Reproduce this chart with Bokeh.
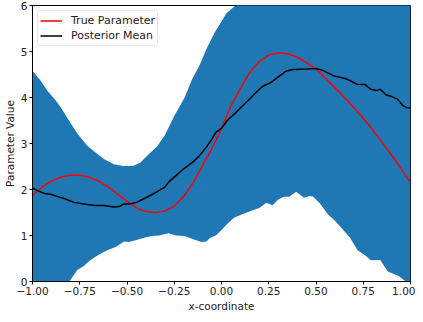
from bokeh.plotting import figure
from bokeh.models import FixedTicker, Legend, LegendItem, Range1d
from bokeh.embed import file_html
from bokeh.resources import INLINE

# ---- data ----
true_x = [-1.0, -0.95, -0.9, -0.85, -0.8, -0.75, -0.7, -0.65, -0.6, -0.55, -0.5, -0.45, -0.4,
          -0.35, -0.3, -0.25, -0.2, -0.15, -0.1, -0.05, 0.0, 0.05, 0.1, 0.15, 0.2, 0.25, 0.3,
          0.35, 0.4, 0.45, 0.5, 0.55, 0.6, 0.65, 0.7, 0.75, 0.8, 0.85, 0.9, 0.95, 1.0]
true_y = [1.87, 2.05, 2.18, 2.27, 2.31, 2.31, 2.27, 2.18, 2.06, 1.9, 1.74, 1.6, 1.52,
          1.5, 1.53, 1.64, 1.85, 2.15, 2.52, 2.9, 3.32, 3.82, 4.2, 4.55, 4.78, 4.92, 4.97,
          4.95, 4.88, 4.76, 4.62, 4.42, 4.22, 4.0, 3.78, 3.55, 3.3, 3.02, 2.75, 2.45, 2.15]

mean_x = [-1.0, -0.97, -0.94, -0.9, -0.87, -0.83, -0.78, -0.72, -0.67, -0.62, -0.57, -0.54,
          -0.52, -0.48, -0.45, -0.4, -0.35, -0.3, -0.28, -0.25, -0.2, -0.15, -0.12, -0.08,
          -0.05, -0.03, 0.0, 0.03, 0.07, 0.1, 0.14, 0.18, 0.22, 0.26, 0.3, 0.34, 0.38, 0.45,
          0.5, 0.53, 0.57, 0.6, 0.65, 0.68, 0.72, 0.76, 0.79, 0.82, 0.84, 0.87, 0.9, 0.93,
          0.96, 0.98, 1.0]
mean_y = [2.03, 1.97, 1.92, 1.89, 1.85, 1.80, 1.72, 1.68, 1.65, 1.65, 1.62, 1.63,
          1.68, 1.69, 1.72, 1.82, 1.93, 2.05, 2.16, 2.27, 2.45, 2.6, 2.72, 2.92,
          3.1, 3.24, 3.33, 3.5, 3.65, 3.77, 3.93, 4.1, 4.25, 4.32, 4.45, 4.57, 4.61, 4.62,
          4.63, 4.6, 4.52, 4.46, 4.42, 4.37, 4.28, 4.28, 4.18, 4.15, 4.18, 4.06, 4.02, 3.97,
          3.82, 3.78, 3.77]

upper_x = [-1.0, -0.96, -0.92, -0.88, -0.85, -0.8, -0.76, -0.71, -0.66, -0.62, -0.57, -0.52,
           -0.47, -0.43, -0.395, -0.34, -0.3, -0.25, -0.195, -0.155, -0.116, -0.08, -0.037,
           0.0, 0.026, 0.06, 0.08, 0.15, 0.3, 0.5, 0.75, 1.0]
upper_y = [4.58, 4.38, 4.14, 3.95, 3.78, 3.45, 3.2, 2.95, 2.78, 2.66, 2.55, 2.51,
           2.51, 2.58, 2.73, 2.94, 3.18, 3.6, 4.0, 4.4, 4.7, 5.05, 5.41,
           5.65, 5.83, 5.95, 6.02, 6.3, 6.6, 6.8, 6.8, 6.8]

lower_x = [-1.0, -0.9, -0.83, -0.805, -0.785, -0.763, -0.73, -0.695, -0.65, -0.605, -0.56,
           -0.516, -0.49, -0.45, -0.4, -0.368, -0.33, -0.28, -0.24, -0.195, -0.15, -0.105,
           -0.08, -0.06, -0.03, 0.0, 0.03, 0.068, 0.11, 0.158, 0.2, 0.237, 0.27, 0.3, 0.33,
           0.358, 0.395, 0.437, 0.465, 0.484, 0.52, 0.563, 0.6, 0.632, 0.68, 0.72, 0.76,
           0.79, 0.84, 0.88, 0.937, 0.975, 1.0]
lower_y = [-0.5, -0.3, -0.05, 0.0, 0.12, 0.25, 0.33, 0.46, 0.58, 0.68, 0.75,
           0.87, 0.86, 0.9, 0.96, 0.99, 1.0, 1.05, 1.0, 0.99, 0.92, 0.86,
           0.87, 0.95, 1.0, 1.12, 1.25, 1.39, 1.46, 1.54, 1.6, 1.71, 1.66, 1.78, 1.84,
           1.84, 1.95, 1.82, 1.86, 1.85, 1.7, 1.46, 1.32, 1.18, 0.95, 0.68, 0.57,
           0.46, 0.47, 0.22, 0.12, 0.0, -0.1]

x_ticks = [-1.0, -0.75, -0.5, -0.25, 0.0, 0.25, 0.5, 0.75, 1.0]
x_tick_labels = ["\u22121.00", "\u22120.75", "\u22120.50", "\u22120.25", "0.00",
                 "0.25", "0.50", "0.75", "1.00"]
y_ticks = [0, 1, 2, 3, 4, 5, 6]
series_names = ["True Parameter", "Posterior Mean"]

FONT = "DejaVu Sans"
FS = "10.5px"

p = figure(width=415, height=314, output_backend="svg", toolbar_location=None,
           x_range=Range1d(-1, 1), y_range=Range1d(0, 6),
           min_border_top=5, min_border_right=5, min_border_left=0, min_border_bottom=0)

p.background_fill_color = "white"
p.border_fill_color = "white"
p.outline_line_color = "black"
p.outline_line_alpha = 1.0
p.outline_line_width = 1
p.xgrid.visible = False
p.ygrid.visible = False

band_x = list(upper_x) + list(reversed(lower_x))
band_y = list(upper_y) + list(reversed(lower_y))
p.patch(band_x, band_y, fill_color="#1f77b4", line_color=None)

r_true = p.line(true_x, true_y, line_color="red", line_width=1.5)
r_mean = p.line(mean_x, mean_y, line_color="black", line_width=1.5)

legend = Legend(items=[LegendItem(label=series_names[0], renderers=[r_true]),
                       LegendItem(label=series_names[1], renderers=[r_mean])],
                location="top_left")
legend.label_text_font = FONT
legend.label_text_font_size = "11px"
legend.label_text_color = "#222222"
legend.border_line_color = "#cccccc"
legend.border_line_width = 1
legend.background_fill_alpha = 0.85
legend.margin = 5
legend.padding = 2
legend.spacing = 0
legend.glyph_width = 22
legend.glyph_height = 15
legend.label_height = 15
legend.label_standoff = 9
legend.border_radius = 3
p.add_layout(legend)

p.xaxis.ticker = FixedTicker(ticks=x_ticks)
p.xaxis.major_label_overrides = {t: l for t, l in zip(x_ticks, x_tick_labels)}
p.yaxis.ticker = FixedTicker(ticks=y_ticks)
p.xaxis.axis_label = "x-coordinate"
p.yaxis.axis_label = "Parameter Value"

for ax in (p.xaxis, p.yaxis):
    ax.axis_line_color = "black"
    ax.major_tick_line_color = "black"
    ax.major_tick_out = 3
    ax.major_tick_in = 0
    ax.minor_tick_line_color = None
    ax.major_label_text_font = FONT
    ax.major_label_text_font_size = FS
    ax.major_label_text_color = "#222222"
    ax.axis_label_text_font = FONT
    ax.axis_label_text_font_size = FS
    ax.axis_label_text_font_style = "normal"
    ax.axis_label_text_color = "#222222"
    ax.major_label_standoff = 2
    ax.axis_label_standoff = 2

open("out.html", "w").write(file_html(p, INLINE))
